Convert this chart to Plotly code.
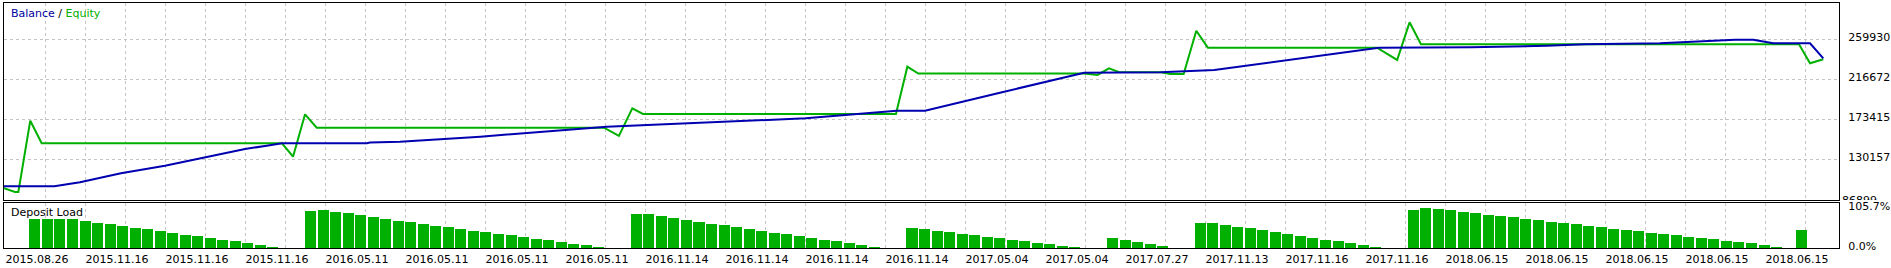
import plotly.graph_objects as go

# ---------------- data ----------------
tick_labels = ["2015.08.26", "2015.11.16", "2015.11.16", "2015.11.16", "2016.05.11",
               "2016.05.11", "2016.05.11", "2016.05.11", "2016.11.14", "2016.11.14",
               "2016.11.14", "2016.11.14", "2017.05.04", "2017.05.04", "2017.07.27",
               "2017.11.13", "2017.11.16", "2017.11.16", "2018.06.15", "2018.06.15",
               "2018.06.15", "2018.06.15", "2018.06.15"]
value_ticks = [86899, 130157, 173415, 216672, 259930]
load_ticks = [0.0, 105.7]
load_tick_text = ["0.0%", "105.7%"]

# x is measured in deposit-load bar slots (trade groups)
balance_x = [-2.47, 1.55, 3.60, 6.87, 10.38, 13.57, 16.77, 18.50, 19.72, 26.50, 26.74,
             29.14, 35.55, 45.63, 61.52, 68.78, 71.04, 77.02, 83.74, 89.85, 91.68,
             94.13, 107.26, 114.59, 120.65, 123.71, 129.70, 130.76, 132.75, 133.82,
             135.68, 137.14, 137.68, 138.21, 138.74, 141.67, 142.73]
balance_y = [101000, 101000, 105400, 115100, 123300, 132400, 141400, 145000, 147600,
             147600, 148400, 149300, 154700, 165500, 174600, 182800, 182800, 202300,
             223900, 224500, 225800, 226800, 251000, 251400, 253100, 254600, 255700,
             256400, 257400, 258500, 259600, 259600, 258500, 256800, 255700, 255700,
             239500]

equity_x = [-2.47, -1.59, -1.32, -0.37, 0.54, 19.72, 20.60, 21.56, 22.49, 45.42, 46.61,
            47.68, 48.53, 68.72, 69.63, 70.50, 83.74, 84.81, 85.72, 86.49, 89.85,
            90.62, 91.68, 92.69, 93.61, 107.11, 108.72, 109.71, 110.62, 140.79,
            141.67, 142.73]
equity_y = [98900, 94900, 94900, 172000, 147600, 147600, 133100, 178900, 164400,
            164400, 155500, 185400, 179300, 179300, 230400, 223000, 223000, 221500,
            228700, 224700, 224500, 222500, 222500, 269300, 251000, 251000, 237700,
            278400, 254600, 254600, 234100, 238400]

load_group_start = [0, 22, 48, 70, 86, 93, 110, 141]
load_group_pct = [
    [76.9, 76.9, 76.9, 76.9, 71.6, 66.4, 63.8, 58.5, 53.3, 51.5, 45.4, 40.2, 34.9,
     32.3, 27.1, 21.8, 19.2, 14.0, 8.7, 3.5],
    [98.7, 100.5, 96.1, 93.5, 88.2, 83.0, 77.7, 72.5, 69.9, 64.6, 59.4, 56.8, 51.5,
     46.3, 43.7, 38.4, 35.8, 30.6, 25.3, 22.7, 17.5, 12.2, 9.6, 4.4],
    [90.0, 90.0, 84.7, 79.5, 74.3, 69.0, 63.8, 61.2, 55.9, 50.7, 45.4, 40.2, 37.6,
     32.3, 27.1, 21.8, 19.2, 14.0, 8.7, 3.5],
    [53.3, 50.7, 45.4, 42.8, 37.6, 34.9, 29.7, 27.1, 21.8, 19.2, 14.0, 11.4, 6.1, 3.5],
    [27.1, 21.8, 16.6, 11.4, 6.1],
    [66.4, 66.4, 61.2, 55.9, 53.3, 48.0, 42.8, 37.6, 32.3, 27.1, 21.8, 19.2, 14.0,
     8.7, 3.5],
    [100.5, 105.7, 103.1, 100.5, 95.2, 92.6, 87.4, 84.7, 82.1, 76.9, 74.3, 69.0, 66.4,
     63.8, 58.5, 55.9, 50.7, 48.0, 45.4, 40.2, 37.6, 34.9, 29.7, 27.1, 24.5, 19.2,
     16.6, 14.0, 8.7, 3.5],
    [48.0],
]
load_x = []
load_y = []
for start, vals in zip(load_group_start, load_group_pct):
    for i, v in enumerate(vals):
        load_x.append(start + i)
        load_y.append(v)

# ---------------- layout geometry ----------------
W, H = 1891, 268
L, R, T, B = 4, 1839, 3, 248          # framed chart area in pixels
MAIN_BOTTOM = 200.0                     # bottom edge of balance panel
LOAD_TOP = 202.5                        # top edge of deposit-load panel
LABEL_LEFT = 1842                       # left edge of the clipped bottom value label strip
SLOT_PX = 12.53                         # pixel pitch of one slot
SLOT0_PX = 34.9                         # pixel centre of slot 0
GRID0_PX, GRID_STEP_PX = 5, 40
LABEL_SHIFT = -2                        # labels sit ~2px below their level

def px_to_slot(px):
    return (px - SLOT0_PX) / SLOT_PX

def fx(px):                 # plot area spans L .. W (no right margin)
    return (px - L) / (W - L)

def fy(py):
    return (B - py) / (B - T)

x_range = [px_to_slot(L), px_to_slot(R)]
grid_vals = []
grid_text = []
j = 0
while GRID0_PX + GRID_STEP_PX * j <= R:
    grid_vals.append(px_to_slot(GRID0_PX + GRID_STEP_PX * j))
    grid_text.append(tick_labels[j // 2] if j % 2 == 0 and j // 2 < len(tick_labels) else "")
    j += 1

# value axis scale: lowest level sits at pixel row 199.4, 40 px per step
V_PER_PX = (value_ticks[1] - value_ticks[0]) / 40.0
V_BASE_PY = 199.4
y_range = [value_ticks[0] - (MAIN_BOTTOM - V_BASE_PY) * V_PER_PX,
           value_ticks[0] + (V_BASE_PY - T) * V_PER_PX]
PCT_PX = 0.3813
y2_range = [0, (B - LOAD_TOP) / PCT_PX]

BLUE = "#0000b0"
GREEN = "#00b000"
GRID = "#c4c4c4"
FONT = dict(family="DejaVu Sans", size=11, color="#000000")

fig = go.Figure()
fig.add_trace(go.Scatter(x=equity_x, y=equity_y, mode="lines",
                         line=dict(color=GREEN, width=2), xaxis="x", yaxis="y",
                         name="Equity", hoverinfo="skip"))
fig.add_trace(go.Scatter(x=balance_x, y=balance_y, mode="lines",
                         line=dict(color=BLUE, width=2), xaxis="x", yaxis="y",
                         name="Balance", hoverinfo="skip"))
fig.add_trace(go.Bar(x=load_x, y=load_y, width=0.88, xaxis="x2", yaxis="y2",
                     marker=dict(color=GREEN, line=dict(width=0)),
                     name="Deposit Load", hoverinfo="skip"))
# lowest value label: drawn in its own strip so that it is clipped at the panel edge
fig.add_trace(go.Scatter(x=[0], y=[value_ticks[0] + LABEL_SHIFT * V_PER_PX],
                         mode="text", text=[str(value_ticks[0])],
                         textposition="middle right", textfont=FONT,
                         cliponaxis=True, xaxis="x3", yaxis="y3",
                         hoverinfo="skip", showlegend=False))

axis_common = dict(showline=True, mirror=True, linecolor="#000000", linewidth=1,
                   zeroline=False, ticks="", fixedrange=True)
x_dom = [0, fx(R)]

fig.update_layout(
    width=W, height=H,
    margin=dict(l=L, r=0, t=T, b=H - B, pad=0),
    paper_bgcolor="#ffffff", plot_bgcolor="#ffffff",
    showlegend=False, font=FONT, bargap=0,
    xaxis=dict(domain=x_dom, anchor="y", range=x_range, tickmode="array",
               tickvals=grid_vals, showticklabels=False, showgrid=True,
               gridcolor=GRID, griddash="3px,3px", gridwidth=1, **axis_common),
    yaxis=dict(domain=[fy(MAIN_BOTTOM), 1], anchor="x", range=y_range, side="right",
               tickmode="array", tickvals=value_ticks,
               ticktext=[""] + [str(v) for v in value_ticks[1:]], showgrid=True,
               gridcolor=GRID, griddash="3px,3px", gridwidth=1,
               ticklabelstandoff=6, ticklabelshift=LABEL_SHIFT, **axis_common),
    xaxis2=dict(domain=x_dom, anchor="y2", range=x_range, tickmode="array",
                tickvals=grid_vals, ticktext=grid_text, showgrid=True,
                gridcolor=GRID, griddash="3px,3px", gridwidth=1,
                ticklabelposition="outside right", tickangle=0,
                ticklabelstandoff=1, **axis_common),
    yaxis2=dict(domain=[0, fy(LOAD_TOP)], anchor="x2", range=y2_range, side="right",
                tickmode="array", tickvals=load_ticks, ticktext=load_tick_text,
                showgrid=False, ticklabelstandoff=6, ticklabelshift=LABEL_SHIFT,
                **axis_common),
    xaxis3=dict(domain=[fx(LABEL_LEFT), 1], anchor="y3", range=[0, 1], visible=False,
                fixedrange=True),
    yaxis3=dict(domain=[fy(MAIN_BOTTOM), 1], anchor="x3", range=y_range, visible=False,
                fixedrange=True),
    annotations=[
        dict(xref="paper", yref="paper", x=fx(9), y=fy(14), xanchor="left",
             yanchor="middle", showarrow=False, font=FONT,
             text="<span style='color:#0000a0'>Balance</span> / "
                  "<span style='color:#00b000'>Equity</span>"),
        dict(xref="paper", yref="paper", x=fx(9), y=fy(212.7), xanchor="left",
             yanchor="middle", showarrow=False, font=FONT, text="Deposit Load"),
    ],
)

fig.write_html("out.html", config={"displayModeBar": False})
